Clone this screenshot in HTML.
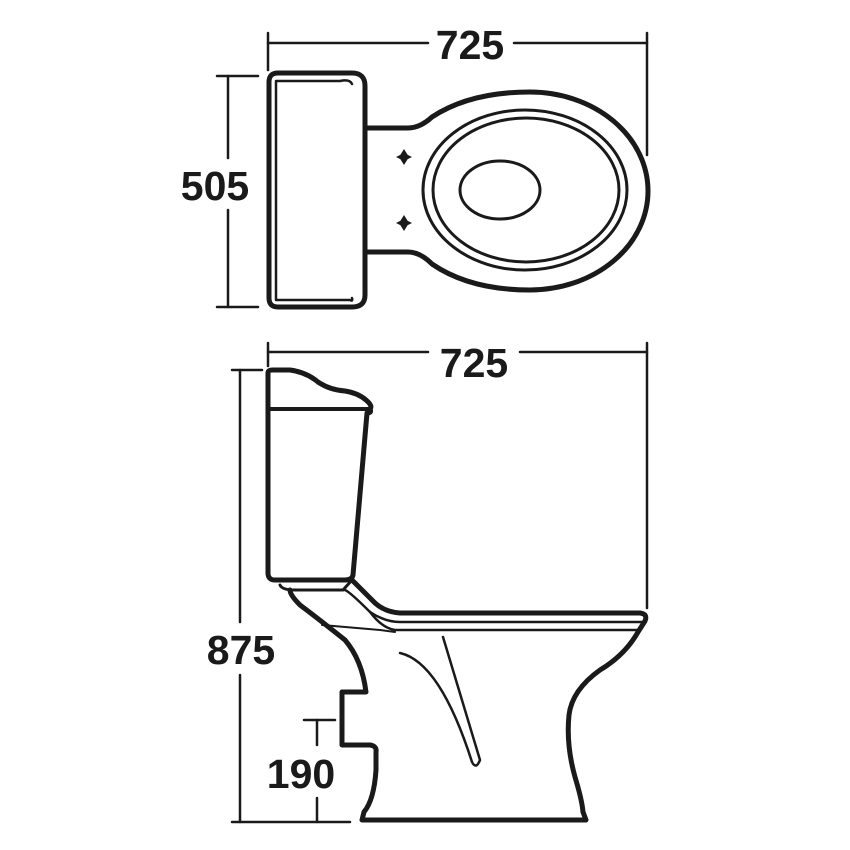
<!DOCTYPE html>
<html><head><style>body{margin:0;background:#fff}svg{display:block}</style></head><body>
<svg width="850" height="850" viewBox="0 0 850 850" xmlns="http://www.w3.org/2000/svg">
<g fill="none" stroke="#1a1a1a" stroke-linecap="round" stroke-linejoin="round">
<g stroke-width="2.5">
<line x1="268" y1="43" x2="428" y2="43"/><line x1="514" y1="43" x2="647" y2="43"/>
<line x1="268" y1="33" x2="268" y2="70"/><line x1="647" y1="33" x2="647" y2="155"/>
<line x1="217" y1="76" x2="258" y2="76"/><line x1="228" y1="76" x2="228" y2="158"/>
<line x1="228" y1="210" x2="228" y2="307"/><line x1="217" y1="307" x2="258" y2="307"/>
<line x1="268" y1="352" x2="428" y2="352"/><line x1="520" y1="352" x2="647" y2="352"/>
<line x1="268" y1="343" x2="268" y2="366"/><line x1="647" y1="343" x2="647" y2="608"/>
<line x1="232" y1="370" x2="262" y2="370"/><line x1="240" y1="370" x2="240" y2="622"/>
<line x1="240" y1="675" x2="240" y2="822"/><line x1="232" y1="822" x2="350" y2="822"/>
<line x1="304" y1="720" x2="335" y2="720"/><line x1="317" y1="720" x2="317" y2="745"/>
<line x1="317" y1="798" x2="317" y2="822"/>
</g>
<path d="M278 73 H352 Q365 73 365 86 V295 Q365 307 352 307 H278 Q269 307 269 298 V82 Q269 73 278 73 Z" stroke-width="5"/>
<path d="M276 81 H340 Q350 79 352 84 M276 81 V300 H350 Q353 302 352 298" stroke-width="2.5"/>
<path d="M365 128 H408 Q420 128 432 117 Q470 92 530 92 A118 99 0 0 1 530 290 Q470 290 432 264 Q420 252 408 252 H365" stroke-width="5"/>
<ellipse cx="525" cy="190" rx="102" ry="80" stroke-width="3"/>
<ellipse cx="526" cy="190" rx="93" ry="72" stroke-width="3"/>
<ellipse cx="500" cy="190" rx="40" ry="29" stroke-width="3"/>
<path d="M268 373 Q268 370 272 370 H290 Q306 372 318 382 Q330 390 345 391 Q358 393 366 400 Q373 406 370 409 Q372 413 367 413 L353 575 Q352 580 345 580 H275 Q268 580 268 573 Z" stroke-width="5"/>
<line x1="268" y1="409" x2="368" y2="409" stroke-width="4"/>
<path d="M352 580 L375 603 Q385 612 400 613 H640 Q648 614 645 621 L638 632 Q625 655 600 670 Q572 690 569 715 Q566 745 575 777 Q582 800 583 812 L586 820 H362 L364 812 Q374 800 376 770 V752 Q377 746 370 745 H342 V692 H366 Q362 660 345 640 Q320 620 300 605 Q290 595 290 590" stroke-width="5"/>
<path d="M280 585 Q282 590 295 590 H343 L352 580" stroke-width="3"/>
<path d="M295 590 H345 Q350 592 370 612 Q385 622 400 622 H645" stroke-width="2.5"/>
<path d="M370 612 Q382 628 395 630 H638" stroke-width="2.5"/>
<path d="M322 625 L380 630 L395 632" stroke-width="2"/>
<path d="M400 653 Q440 662 472 762 Q476 770 480 760 L443 637" stroke-width="2.5"/>
</g>
<g fill="#1a1a1a">
<path d="M404 149 L409 157 L404 165 L399 157 Z M396 157 L404 153 L412 157 L404 161 Z"/>
<path d="M404 215 L409 223 L404 231 L399 223 Z M396 223 L404 219 L412 223 L404 227 Z"/>
</g>
<g font-family="Liberation Sans, sans-serif" font-weight="bold" font-size="41" fill="#1a1a1a" text-anchor="middle">
<text x="470" y="59">725</text>
<text x="215" y="200">505</text>
<text x="474" y="377">725</text>
<text x="241" y="664">875</text>
<text x="301" y="788">190</text>
</g>
</svg>
</body></html>
